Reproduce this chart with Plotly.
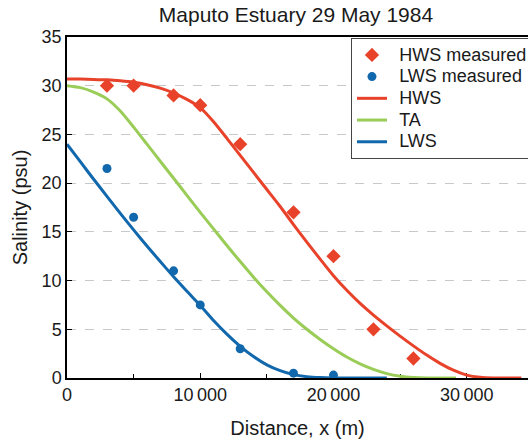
import plotly.graph_objects as go

# Measured data
hws_meas_x = [3000, 5000, 8000, 10000, 13000, 17000, 20000, 23000, 26000]
hws_meas_y = [30.0, 30.0, 29.0, 28.0, 24.0, 17.0, 12.5, 5.0, 2.0]
lws_meas_x = [3000, 5000, 8000, 10000, 13000, 17000, 20000]
lws_meas_y = [21.5, 16.5, 11.0, 7.5, 3.0, 0.5, 0.3]

# Model curves
hws_x = [0, 1000, 2000, 3000, 4000, 5000, 6000, 7000, 8000, 9000, 10000, 11000, 12000,
         13000, 14000, 15000, 16000, 17000, 18000, 19000, 20000, 21000, 22000, 23000,
         24000, 25000, 26000, 27000, 28000, 29000, 30000, 31000, 32000, 34100]
hws_y = [30.7, 30.68, 30.65, 30.6, 30.5, 30.35, 30.1, 29.75, 29.25, 28.6, 27.75, 26.3, 24.6,
         22.85, 21.1, 19.35, 17.6, 15.75, 13.95, 12.2, 10.5, 9.0, 7.65, 6.45,
         5.35, 4.3, 3.3, 2.35, 1.5, 0.8, 0.3, 0.07, 0.0, 0.0]

ta_x = [0, 1000, 2000, 3000, 4000, 5000, 6000, 7000, 8000, 9000, 10000, 11000, 12000,
        13000, 14000, 15000, 16000, 17000, 18000, 19000, 20000, 21000, 22000, 23000,
        24000, 25000, 26000, 27000, 29200]
ta_y = [30.0, 29.8, 29.35, 28.65, 27.4, 25.75, 24.0, 22.25, 20.5, 18.75, 17.0, 15.3, 13.6,
        11.95, 10.35, 8.85, 7.45, 6.15, 5.0, 3.95, 3.0, 2.15, 1.45, 0.88,
        0.45, 0.18, 0.05, 0.0, 0.0]

lws_x = [0, 1000, 2000, 3000, 4000, 5000, 6000, 7000, 8000, 9000, 10000, 11000, 12000,
         13000, 14000, 15000, 16000, 17000, 18000, 19000, 20000, 24000]
lws_y = [24.0, 22.2, 20.4, 18.65, 16.9, 15.2, 13.55, 11.95, 10.4, 8.9, 7.45, 5.9, 4.5,
         3.25, 2.2, 1.35, 0.75, 0.35, 0.14, 0.04, 0.0, 0.0]

y_ticks = [0, 5, 10, 15, 20, 25, 30, 35]
x_ticks = [0, 10000, 20000, 30000]

RED = "#E8432A"
GREEN = "#9ACD58"
BLUE = "#1268AC"
FONT = "Liberation Sans, Arial, sans-serif"


def legend_label(text):
    return '<span style="font-size:18px">\u2009\u2009' + text + "</span>"


fig = go.Figure()
fig.add_trace(go.Scatter(x=lws_x, y=lws_y, mode="lines", name=legend_label("LWS"), legendrank=5,
                         line=dict(color=BLUE, width=3, shape="spline", smoothing=0.6)))
fig.add_trace(go.Scatter(x=ta_x, y=ta_y, mode="lines", name=legend_label("TA"), legendrank=4,
                         line=dict(color=GREEN, width=3, shape="spline", smoothing=0.6)))
fig.add_trace(go.Scatter(x=hws_x, y=hws_y, mode="lines", name=legend_label("HWS"), legendrank=3,
                         line=dict(color=RED, width=3, shape="spline", smoothing=0.6)))
fig.add_trace(go.Scatter(x=hws_meas_x, y=hws_meas_y, mode="markers",
                         name=legend_label("HWS measured"), legendrank=1,
                         marker=dict(symbol="diamond", size=11, color=RED)))
fig.add_trace(go.Scatter(x=lws_meas_x, y=lws_meas_y, mode="markers",
                         name=legend_label("LWS measured"), legendrank=2,
                         marker=dict(symbol="circle", size=9, color=BLUE)))

fig.update_layout(
    width=528, height=439,
    margin=dict(l=67, r=0, t=37, b=61, autoexpand=False),
    paper_bgcolor="white", plot_bgcolor="white",
    font=dict(family=FONT, size=18, color="#1a1a1a"),
    separators=".\u2009",
    title=dict(text="Maputo Estuary 29 May 1984", x=0.5606, xref="container",
               xanchor="center", y=1 - 15 / 439, yref="container", yanchor="middle",
               font=dict(size=21, color="#1a1a1a")),
    legend=dict(x=0.616, y=0.997, xanchor="left", yanchor="top",
                bgcolor="white", bordercolor="#444", borderwidth=1,
                font=dict(size=14.4, color="#1a1a1a"), tracegroupgap=0),
    showlegend=True,
)

fig.update_xaxes(
    range=[0, 34600], tickvals=x_ticks, tickformat=",d",
    showgrid=False, zeroline=False,
    showline=True, linecolor="black", linewidth=1.5, mirror=True,
    ticks="inside", ticklen=5, tickcolor="black", tickwidth=1.2,
    minor=dict(dtick=5000, tick0=0, ticks="inside", ticklen=4, tickcolor="black"),
    layer="below traces",
    title=dict(text="Distance, x (m)", font=dict(size=20), standoff=17),
    automargin=False,
)
fig.update_yaxes(
    range=[0, 35], tickvals=y_ticks,
    showgrid=True, gridcolor="#C8C8C8", gridwidth=1, griddash="dash",
    zeroline=False,
    showline=True, linecolor="black", linewidth=1.5,
    ticks="inside", ticklen=5, tickcolor="black", tickwidth=1.2,
    layer="below traces",
    title=dict(text="Salinity (psu)", font=dict(size=20), standoff=9),
    automargin=False,
)

fig.write_html("out.html", config={"displayModeBar": False},
               post_script="document.body.style.margin='0px';")
